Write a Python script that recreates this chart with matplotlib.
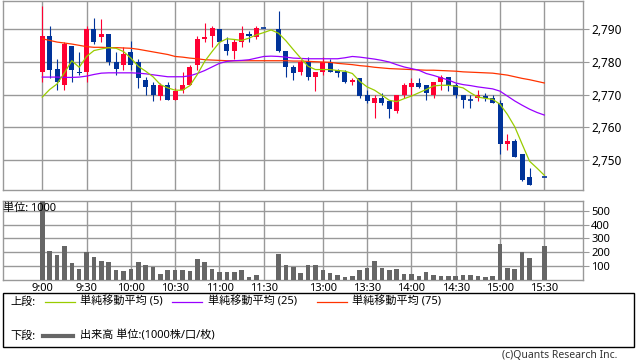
import numpy as np
import matplotlib
matplotlib.use('Agg')
import matplotlib.pyplot as plt
from matplotlib.lines import Line2D
from matplotlib.patches import Rectangle
from matplotlib.ticker import FuncFormatter

plt.rcParams['font.family'] = ['Noto Sans', 'Noto Sans CJK JP']

nan = np.nan

# 5-minute bars, slot 0 = 9:00, slot 31 and 67 are empty
opens = [2777, 2788, 2778, 2773, 2785, 2777, 2777, 2790, 2787.5, 2788.5,
         2780, 2779, 2783, 2780, 2774.5, 2773, 2769.5, 2773, 2768.5, 2771.5,
         2773, 2779, 2787, 2788, 2790, 2785.5, 2783.5, 2786, 2788.5, 2787.5,
         2790.5, nan, 2790, 2783.5, 2778.5, 2777, 2780, 2775.5, 2777, 2780,
         2777.5, 2777, 2774, 2775, 2770, 2767.5, 2769, 2768, 2765, 2770,
         2772.5, 2773.5, 2773, 2770, 2774, 2775.5, 2773, 2770, 2768.5, 2769,
         2769.5, 2769, 2767.5, 2755, 2756, 2752, 2745, nan, 2745]
highs = [2797, 2791, 2781, 2786, 2785, 2783, 2791, 2793.5, 2793, 2788.5,
         2783, 2784.5, 2786.5, 2781, 2775.5, 2774, 2773.5, 2774, 2772, 2777,
         2779, 2788, 2792, 2791, 2790, 2787.5, 2787, 2791, 2789.5, 2791,
         2790.5, nan, 2795.5, 2783.5, 2779, 2780.5, 2781.5, 2777, 2781.5, 2781,
         2778, 2777.5, 2775, 2775, 2771.5, 2770, 2770.5, 2768, 2770, 2773.5,
         2775, 2775, 2773, 2774, 2776, 2775.5, 2773.5, 2770, 2770, 2771.5,
         2770.5, 2770, 2768.5, 2758, 2756.5, 2752, 2747.5, nan, 2745]
lows = [2774, 2775, 2771.5, 2771.5, 2774, 2776, 2774, 2785.5, 2786, 2779,
        2776, 2777.5, 2777.5, 2772, 2770, 2768, 2768.5, 2768.5, 2768.5, 2770.5,
        2773, 2777.5, 2786, 2784.5, 2786, 2782, 2781, 2784.5, 2786, 2787,
        2790.5, nan, 2783, 2775.5, 2774.5, 2776, 2774.5, 2771, 2776, 2777,
        2775.5, 2773.5, 2773, 2769, 2767.5, 2763, 2767, 2763, 2764.5, 2769,
        2769.5, 2772, 2768.5, 2769, 2771.5, 2771, 2769, 2766, 2766, 2768,
        2768, 2767.5, 2752, 2753, 2751, 2743.5, 2742.5, nan, 2745]
closes = [2788, 2777.5, 2774, 2785.5, 2777.5, 2776.5, 2790, 2786, 2788.5, 2780,
          2778, 2782.5, 2779, 2775, 2772.5, 2770, 2773, 2768.5, 2771, 2773,
          2778.5, 2787, 2787.5, 2790.5, 2786, 2783.5, 2786, 2789, 2788, 2790.5,
          2790.5, nan, 2783.5, 2778.5, 2776.5, 2780, 2775.5, 2777, 2780, 2777,
          2776.5, 2774, 2774.5, 2769.5, 2768, 2769, 2767.5, 2765.5, 2770, 2773,
          2773.5, 2772.5, 2770.5, 2774, 2775.5, 2773, 2770, 2768.5, 2768.5, 2770,
          2769, 2767.5, 2755, 2756, 2751, 2744, 2742.5, nan, 2745]
volume = [650, 210, 180, 245, 120, 82, 200, 165, 137, 130,
          70, 62, 82, 130, 105, 92, 40, 75, 70, 70,
          62, 150, 130, 82, 55, 55, 55, 70, 25, 37,
          3, nan, 185, 105, 97, 52, 105, 105, 70, 47,
          37, 22, 30, 75, 90, 137, 90, 70, 82, 45,
          45, 30, 55, 37, 30, 30, 30, 37, 37, 30,
          22, 30, 258, 90, 82, 202, 157, nan, 245]

ma5 = [2769.3, 2771.6, 2773.3, 2776.7, 2780.4, 2778.4, 2781.7, 2783.5, 2784.0, 2784.4,
       2784.2, 2783.2, 2781.2, 2778.7, 2777.2, 2775.5, 2773.1, 2772.1, 2771.4, 2771.4,
       2772.8, 2776.2, 2780.2, 2783.2, 2786.0, 2787.1, 2786.9, 2786.6, 2787.3, 2788.3,
       2789.0, 2789.8, 2788.8, 2786.5, 2783.8, 2781.2, 2778.7, 2777.7, 2777.7, 2777.7,
       2777.4, 2777.2, 2776.5, 2774.1, 2772.4, 2771.4, 2769.9, 2768.3, 2767.9, 2768.8,
       2769.6, 2770.6, 2771.6, 2772.7, 2772.9, 2772.9, 2772.6, 2772.1, 2770.6, 2769.3,
       2768.9, 2768.6, 2767.1, 2764.0, 2760.2, 2754.9, 2749.7, 2747.6, 2745.4]
ma25 = [2775.4, 2775.4, 2775.4, 2775.3, 2775.3, 2775.4, 2775.7, 2776.2, 2776.6, 2776.7,
        2776.7, 2776.7, 2776.7, 2776.6, 2776.4, 2776.1, 2775.8, 2775.5, 2775.5, 2775.5,
        2775.8, 2776.5, 2777.4, 2778.5, 2779.6, 2780.2, 2780.4, 2780.5, 2780.7, 2781.2,
        2781.7, 2781.8, 2781.7, 2781.5, 2781.2, 2781.1, 2781.0, 2781.0, 2781.0, 2781.0,
        2781.0, 2781.3, 2781.7, 2781.5, 2781.2, 2780.9, 2780.5, 2780.0, 2779.2, 2778.5,
        2778.0, 2777.5, 2776.5, 2775.9, 2775.2, 2774.5, 2773.6, 2773.1, 2772.8, 2772.4,
        2772.1, 2771.8, 2771.1, 2769.6, 2768.1, 2766.8, 2765.6, 2764.6, 2763.8]
ma75 = [2787.1, 2786.6, 2786.1, 2785.8, 2785.5, 2785.1, 2784.7, 2784.5, 2784.5, 2784.4,
        2784.4, 2784.3, 2784.2, 2783.9, 2783.5, 2783.1, 2782.7, 2782.3, 2781.7, 2781.5,
        2781.2, 2781.0, 2780.7, 2780.6, 2780.5, 2780.4, 2780.4, 2780.4, 2780.4, 2780.4,
        2780.4, 2780.4, 2780.4, 2780.4, 2780.3, 2780.3, 2780.2, 2780.1, 2780.0, 2779.9,
        2779.6, 2779.4, 2779.2, 2778.9, 2778.7, 2778.4, 2778.2, 2778.0, 2777.9, 2777.8,
        2777.7, 2777.6, 2777.5, 2777.5, 2777.4, 2777.3, 2777.2, 2777.0, 2776.9, 2776.8,
        2776.7, 2776.6, 2776.3, 2776.0, 2775.5, 2775.0, 2774.6, 2774.1, 2773.6]

tick_slots = [0, 6, 12, 18, 24, 30, 38, 44, 50, 56, 62, 68]
tick_labels = ['9:00', '9:30', '10:00', '10:30', '11:00', '11:30',
               '13:00', '13:30', '14:00', '14:30', '15:00', '15:30']
price_ticks = [2750, 2760, 2770, 2780, 2790]
vol_ticks = [100, 200, 300, 400, 500]

UP = '#ff0033'
DOWN = '#003399'
GRID = '#999999'

W, H = 638, 362
fig = plt.figure(figsize=(W / 100, H / 100), dpi=100)


def px_axes(x0, y0, x1, y1):
    # pixel box (top-left origin) -> figure axes
    return fig.add_axes([x0 / W, 1 - y1 / H, (x1 - x0) / W, (y1 - y0) / H])


ax = px_axes(3, 0.5, 582.7, 190)
axv = px_axes(3, 201, 582.7, 280)

x = np.arange(len(closes))
o = np.array(opens, dtype=float)
c = np.array(closes, dtype=float)
hi = np.array(highs, dtype=float)
lo = np.array(lows, dtype=float)
ok = ~np.isnan(c)
up = ok & (c > o)
colors = np.where(up, UP, DOWN)

# candles
ax.vlines(x[ok], lo[ok], hi[ok], colors=colors[ok], lw=0.8, zorder=3)
body_w = 0.68
for i in x[ok]:
    if abs(c[i] - o[i]) < 0.3:
        ax.hlines(c[i], i - body_w / 2, i + body_w / 2, colors=colors[i], lw=1.2, zorder=3)
    else:
        ax.bar(i, abs(c[i] - o[i]), bottom=min(o[i], c[i]), width=body_w,
               color=colors[i], lw=0, zorder=3)

ax.plot(x, ma75, color='#ff3300', lw=0.9, zorder=4)
ax.plot(x, ma25, color='#9900ff', lw=0.9, zorder=4)
ax.plot(x, ma5, color='#99cc00', lw=0.9, zorder=4)

ax.set_xlim(-5.32, 73.2)
ax.set_ylim(2740.9, 2798.8)
ax.set_xticks(tick_slots)
ax.set_xticklabels([])
ax.set_yticks(price_ticks)
ax.yaxis.set_major_formatter(FuncFormatter(lambda v, p: f'{v:,.0f}'))
ax.yaxis.tick_right()
ax.tick_params(axis='x', length=0)
ax.tick_params(axis='y', length=4, color=GRID, labelsize=8.5, pad=2)
ax.grid(True, color=GRID, lw=1)
ax.set_axisbelow(True)

# volume
v = np.array(volume, dtype=float)
axv.bar(x[ok], v[ok], width=0.62, color='#666666', lw=0, zorder=3)
axv.set_xlim(-5.32, 73.2)
axv.set_ylim(0, 570)
axv.set_xticks(tick_slots)
axv.set_xticklabels(tick_labels)
axv.set_yticks(vol_ticks)
axv.yaxis.tick_right()
axv.tick_params(axis='x', length=0, labelsize=8, pad=2)
axv.tick_params(axis='y', length=4, color=GRID, labelsize=8, pad=2)
axv.grid(True, color=GRID, lw=1)
axv.set_axisbelow(True)
axv.text(0.0, 0.9, '単位: 1000', transform=axv.transAxes, fontsize=8,
         ha='left', va='center', zorder=5)

for a in (ax, axv):
    for s in a.spines.values():
        s.set_color(GRID)
        s.set_linewidth(1)

# legend box
fig.add_artist(Rectangle((3 / W, 1 - 347 / H), 631 / W, 54 / H,
                         transform=fig.transFigure, fill=False,
                         edgecolor='black', lw=1))
r1 = 1 - 302 / H
r2 = 1 - 336 / H
fig.text(10 / W, r1, '上段:', fontsize=8, va='center')
fig.text(10 / W, r2, '下段:', fontsize=8, va='center')
legend_items = [(45, 75, 80, '#99cc00', '単純移動平均 (5)'),
                (172, 202, 208, '#9900ff', '単純移動平均 (25)'),
                (317, 347, 352, '#ff3300', '単純移動平均 (75)')]
for x0, x1, tx, col, label in legend_items:
    fig.add_artist(Line2D([x0 / W, x1 / W], [r1, r1], color=col, lw=0.9,
                          transform=fig.transFigure))
    fig.text(tx / W, r1, label, fontsize=8, va='center')
fig.add_artist(Line2D([43 / W, 73 / W], [r2, r2], color='#666666', lw=3,
                      transform=fig.transFigure))
fig.text(80 / W, r2, '出来高 単位:(1000株/口/枚)', fontsize=8, va='center')

fig.text(617 / W, 1 - 356 / H, '(c)Quants Research Inc.', fontsize=7.5,
         color='#333333', ha='right', va='center')

fig.savefig('out.png', dpi=100)
